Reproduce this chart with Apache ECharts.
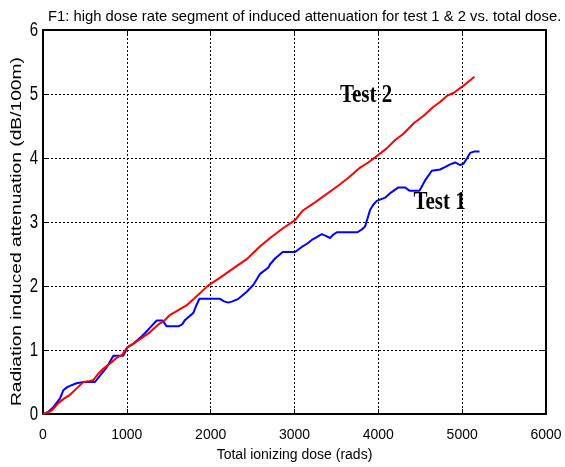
<!DOCTYPE html>
<html>
<head>
<meta charset="utf-8">
<script src="https://cdn.jsdelivr.net/npm/echarts@6/dist/echarts.min.js"></script>
<style>
  html, body { margin: 0; padding: 0; background: #fff; }
  #chart { width: 565px; height: 467px; }
</style>
</head>
<body>
<div id="chart"></div>
<script>
// Test 1: cumulative dose (rads) and induced attenuation (dB/100m)
const test1Dose = [0, 60, 120, 203, 242, 290, 342, 400, 481, 620, 680, 760, 800, 839, 958, 1006, 1080, 1158, 1220, 1277,
  1357, 1428, 1476, 1615, 1627, 1660, 1695, 1740, 1794, 1830, 1866, 2112, 2160, 2211, 2260, 2331, 2431, 2510, 2590, 2689,
  2709, 2768, 2860, 3007, 3087, 3150, 3206, 3260, 3325, 3380, 3425, 3460, 3505, 3751, 3800, 3842, 3870, 3902, 3940, 3982,
  4081, 4150, 4240, 4320, 4371, 4490, 4558, 4638, 4737, 4800, 4857, 4916, 4976, 5016, 5060, 5095, 5140, 5207];
const test1Atten = [0, 0.03, 0.10, 0.245, 0.37, 0.42, 0.45, 0.48, 0.50, 0.50, 0.60, 0.73, 0.82, 0.91, 0.91, 1.04, 1.10, 1.19, 1.27, 1.35,
  1.46, 1.46, 1.37, 1.37, 1.34, 1.40, 1.47, 1.52, 1.58, 1.70, 1.80, 1.80, 1.76, 1.74, 1.76, 1.80, 1.91, 2.02, 2.19, 2.29,
  2.34, 2.43, 2.53, 2.53, 2.61, 2.66, 2.72, 2.76, 2.81, 2.78, 2.75, 2.80, 2.84, 2.84, 2.88, 2.93, 3.05, 3.19, 3.27, 3.33,
  3.38, 3.46, 3.54, 3.54, 3.49, 3.49, 3.65, 3.80, 3.82, 3.86, 3.90, 3.93, 3.89, 3.91, 4.00, 4.08, 4.10, 4.10];

// Test 2: cumulative dose (rads) and induced attenuation (dB/100m)
const test2Dose = [0, 44, 100, 183, 250, 322, 402, 481, 540, 600, 660, 720, 800, 879, 940, 1006, 1080, 1158, 1277, 1376,
  1440, 1516, 1600, 1715, 1800, 1973, 2100, 2232, 2330, 2431, 2510, 2590, 2709, 2850, 3007, 3100, 3226, 3365, 3450, 3544,
  3650, 3783, 3880, 3982, 4100, 4200, 4300, 4419, 4540, 4658, 4740, 4817, 4900, 5016, 5080, 5147];
const test2Atten = [0, 0.02, 0.05, 0.17, 0.24, 0.30, 0.40, 0.50, 0.51, 0.53, 0.63, 0.71, 0.79, 0.88, 0.92, 1.04, 1.10, 1.17, 1.28, 1.40,
  1.45, 1.55, 1.61, 1.70, 1.80, 2.01, 2.12, 2.24, 2.33, 2.42, 2.52, 2.62, 2.75, 2.89, 3.03, 3.18, 3.29, 3.42, 3.50, 3.59,
  3.70, 3.85, 3.93, 4.03, 4.15, 4.28, 4.38, 4.54, 4.66, 4.80, 4.88, 4.97, 5.02, 5.13, 5.20, 5.27];

// Axis tick labels
const yTickValues = [0, 1, 2, 3, 4, 5, 6];
const yTickLabels = ['0', '1', '2', '3', '4', '5', '6'];

// Text annotations anchored in data coordinates
const seriesNames = ['Test 1', 'Test 2'];
const labelAnchors = [[4731, 3.30], [3854, 4.97]];

const titleText = 'F1: high dose rate segment of induced attenuation for test 1 & 2 vs. total dose.';
const xTitle = 'Total ionizing dose (rads)';
const yTitle = 'Radiation induced attenuation (dB/100m)';

const zip = (xs, ys) => xs.map((x, i) => [x, ys[i]]);

const sansFont = 'Liberation Sans, Arial, sans-serif';
const gridLine = { show: true, lineStyle: { color: '#000', type: [2, 2], width: 1 } };
const frameLine = { show: true, onZero: false, lineStyle: { color: '#000', width: 2 } };
const innerTick = { show: true, inside: true, length: 5, lineStyle: { color: '#000', width: 1 } };

const chart = echarts.init(document.getElementById('chart'), null, { renderer: 'canvas' });

chart.setOption({
  animation: false,
  backgroundColor: '#fff',
  title: {
    text: titleText,
    left: 43,
    top: 4,
    textStyle: { fontFamily: sansFont, fontSize: 14.8, fontWeight: 'normal', color: '#000' }
  },
  grid: { left: 43, right: 19, top: 30, bottom: 46, containLabel: false },
  xAxis: [
    {
      type: 'value', min: 0, max: 6000, interval: 1000, position: 'bottom',
      name: xTitle, nameLocation: 'middle', nameGap: 34,
      nameTextStyle: { fontFamily: sansFont, fontSize: 14, color: '#000' },
      axisLine: frameLine, axisTick: innerTick,
      axisLabel: { fontFamily: sansFont, fontSize: 14, color: '#000', margin: 14, formatter: v => String(v) },
      splitLine: gridLine
    },
    {
      type: 'value', min: 0, max: 6000, interval: 1000, position: 'top',
      axisLine: frameLine, axisTick: innerTick, axisLabel: { show: false }, splitLine: { show: false }
    }
  ],
  yAxis: [
    {
      type: 'value', min: 0, max: 6, interval: 1, position: 'left',
      axisLine: frameLine, axisTick: innerTick, axisLabel: { show: false },
      splitLine: gridLine
    },
    {
      type: 'value', min: 0, max: 6, interval: 1, position: 'right',
      axisLine: frameLine, axisTick: innerTick, axisLabel: { show: false }, splitLine: { show: false }
    }
  ],
  series: [
    {
      name: seriesNames[0], type: 'line', data: zip(test1Dose, test1Atten),
      showSymbol: false, lineStyle: { color: '#0000ff', width: 2 }, itemStyle: { color: '#0000ff' }
    },
    {
      name: seriesNames[1], type: 'line', data: zip(test2Dose, test2Atten),
      showSymbol: false, lineStyle: { color: '#ff0000', width: 2 }, itemStyle: { color: '#ff0000' }
    }
  ]
});

// Left-axis labels and title are drawn as tall, narrow text
const toPx = pt => chart.convertToPixel({ xAxisIndex: 0, yAxisIndex: 0 }, pt);
const [axisX] = toPx([0, 0]);
const [, yMid] = toPx([0, 2.85]);

const yLabelGraphics = yTickValues.map((v, i) => ({
  type: 'text', x: axisX - 5, y: toPx([0, v])[1], scaleY: 1.35,
  style: {
    text: yTickLabels[i], fill: '#000', font: '15px ' + sansFont,
    align: 'right', verticalAlign: 'middle'
  }
}));

const yTitleGraphic = {
  type: 'text', x: 17, y: yMid, rotation: Math.PI / 2, scaleX: 1.28,
  style: {
    text: yTitle, fill: '#000', font: '15px ' + sansFont,
    align: 'center', verticalAlign: 'middle'
  }
};

const annotationGraphics = labelAnchors.map((pt, i) => {
  const [px, py] = toPx(pt);
  return {
    type: 'text', x: px, y: py, scaleY: 1.18,
    style: {
      text: seriesNames[i], fill: '#000',
      font: 'bold 21px "Liberation Serif", "Times New Roman", serif',
      align: 'center', verticalAlign: 'middle'
    }
  };
});

chart.setOption({ graphic: [...yLabelGraphics, yTitleGraphic, ...annotationGraphics] });
</script>
</body>
</html>
